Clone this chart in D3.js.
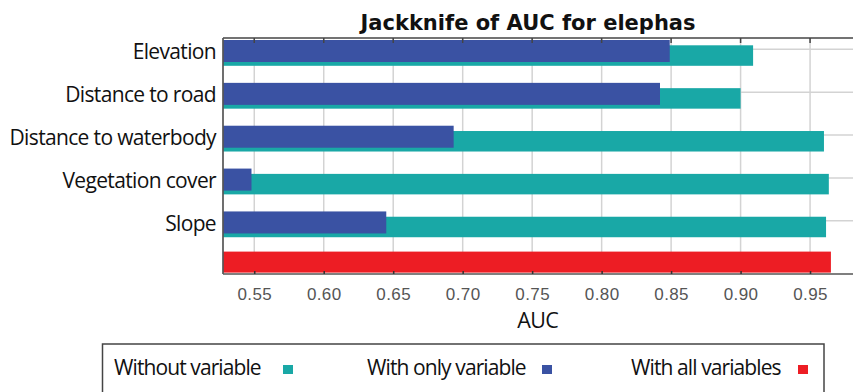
<!DOCTYPE html>
<html>
<head>
<meta charset="utf-8">
<script src="https://cdn.jsdelivr.net/npm/d3@7"></script>
<style>
  html, body { margin: 0; padding: 0; background: #fff; }
  svg { display: block; }
  .cat { font-family: "Open Sans", sans-serif; font-size: 21px; letter-spacing: -0.65px; fill: #111; }
  .tick-label { font-family: "Liberation Sans", Arial, sans-serif; font-size: 17px; fill: #555; letter-spacing: 0.4px; }
  .title { font-family: "DejaVu Sans", sans-serif; font-weight: bold; font-size: 21px; fill: #111; }
</style>
</head>
<body>
<svg id="chart" width="853" height="392"></svg>
<script>
// Jackknife test of variable importance (AUC)
const variables = ["Elevation", "Distance to road", "Distance to waterbody", "Vegetation cover", "Slope"];
const withoutVariable = [0.909, 0.900, 0.960, 0.9635, 0.9615];
const withOnlyVariable = [0.849, 0.842, 0.6935, 0.548, 0.645];
const withAllVariables = 0.965;
const xTicks = [0.55, 0.60, 0.65, 0.70, 0.75, 0.80, 0.85, 0.90, 0.95];
const legendItems = ["Without variable", "With only variable", "With all variables"];

const colors = { without: "#19a8a6", only: "#3a52a3", all: "#ed1d24" };

const svg = d3.select("#chart");
const plotLeft = 223, plotTop = 38, plotBottom = 274, plotRight = 858.7;

const x = d3.scaleLinear().domain([0.5275, 0.985]).range([plotLeft, plotRight]);
const rows = variables.concat(["__all__"]);
const y = d3.scalePoint().domain(rows).range([49.3, 263.6]);

// gridlines
const grid = svg.append("g");
grid.selectAll("line.v").data(xTicks).join("line")
  .attr("class", "v")
  .attr("x1", d => x(d)).attr("x2", d => x(d))
  .attr("y1", plotTop).attr("y2", plotBottom)
  .attr("stroke", "#d3d3d3").attr("stroke-width", 1.5);
grid.selectAll("line.h").data(variables).join("line")
  .attr("class", "h")
  .attr("x1", plotLeft).attr("x2", 853)
  .attr("y1", d => y(d)).attr("y2", d => y(d))
  .attr("stroke", "#d3d3d3").attr("stroke-width", 1.5);

// bars: without variable (behind), with only variable (front), with all variables
const bars = svg.append("g");
bars.selectAll("rect.without").data(variables).join("rect")
  .attr("class", "without")
  .attr("x", plotLeft)
  .attr("y", d => y(d) - 4)
  .attr("width", (d, i) => x(withoutVariable[i]) - plotLeft)
  .attr("height", 20.5)
  .attr("fill", colors.without);
bars.selectAll("rect.only").data(variables).join("rect")
  .attr("class", "only")
  .attr("x", plotLeft)
  .attr("y", d => y(d) - 9.3)
  .attr("width", (d, i) => x(withOnlyVariable[i]) - plotLeft)
  .attr("height", 22)
  .attr("fill", colors.only);
bars.append("rect")
  .attr("x", plotLeft)
  .attr("y", y("__all__") - 12)
  .attr("width", x(withAllVariables) - plotLeft)
  .attr("height", 21)
  .attr("fill", colors.all);

// frame: top border with ticks, left axis
const frame = svg.append("g").attr("stroke", "#444");
frame.append("line").attr("x1", plotLeft).attr("x2", 853).attr("y1", plotTop).attr("y2", plotTop).attr("stroke-width", 1.7);
frame.append("line").attr("x1", plotLeft).attr("x2", plotLeft).attr("y1", plotTop).attr("y2", plotBottom).attr("stroke-width", 1.7).attr("stroke", "#555");
frame.selectAll("line.tt").data(xTicks).join("line")
  .attr("class", "tt")
  .attr("x1", d => x(d)).attr("x2", d => x(d))
  .attr("y1", plotTop).attr("y2", plotTop + 5).attr("stroke-width", 1.5);

// bottom axis
const xAxis = d3.axisBottom(x).tickValues(xTicks).tickFormat(d3.format(".2f")).tickSizeInner(-3).tickSizeOuter(0).tickPadding(10);
const gx = svg.append("g").attr("transform", `translate(0,${plotBottom})`).call(xAxis);
gx.attr("font-family", null).attr("font-size", null);
gx.select(".domain").attr("stroke", "#555").attr("stroke-width", 1.7).attr("d", `M${plotLeft},0H853`);
gx.selectAll(".tick line").attr("stroke", "#333").attr("stroke-width", 1.5);
gx.selectAll(".tick text").attr("class", "tick-label").attr("y", 14).attr("dy", "0.71em").attr("fill", null);

// axis title
svg.append("text").attr("class", "cat")
  .attr("x", x(0.754)).attr("y", 328).attr("text-anchor", "middle")
  .style("font-size", "21.5px").text("AUC");

// category labels
svg.append("g").selectAll("text").data(variables).join("text")
  .attr("class", "cat")
  .attr("x", 216).attr("y", d => y(d) + 10)
  .attr("text-anchor", "end")
  .text(d => d);

// chart title
svg.append("text").attr("class", "title")
  .attr("x", 528).attr("y", 30).attr("text-anchor", "middle")
  .text("Jackknife of AUC for elephas");

// legend
const legend = svg.append("g");
legend.append("rect").attr("x", 102.5).attr("y", 344).attr("width", 721.5).attr("height", 50)
  .attr("fill", "none").attr("stroke", "#444").attr("stroke-width", 1.5);
const legendText = [114, 367, 631];
const legendSwatch = [283, 542, 798];
const legendColors = [colors.without, colors.only, colors.all];
legend.selectAll("text").data(legendItems).join("text")
  .attr("class", "cat")
  .attr("x", (d, i) => legendText[i]).attr("y", 375)
  .style("letter-spacing", "-0.9px")
  .text(d => d);
legend.selectAll("rect.sw").data(legendItems).join("rect")
  .attr("class", "sw")
  .attr("x", (d, i) => legendSwatch[i]).attr("y", 365)
  .attr("width", 10).attr("height", 9)
  .attr("fill", (d, i) => legendColors[i]);
</script>
</body>
</html>
